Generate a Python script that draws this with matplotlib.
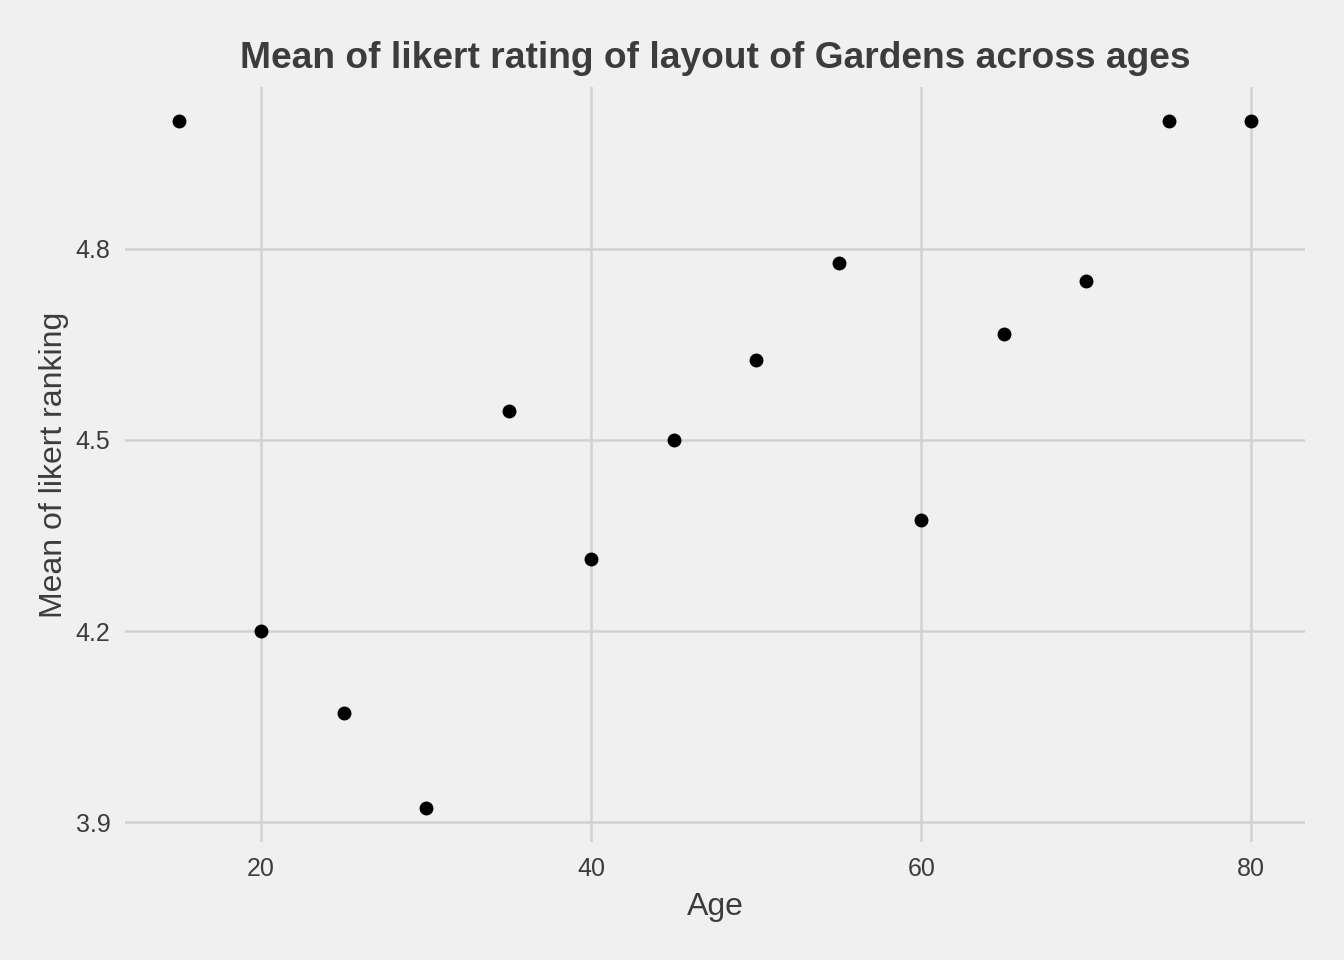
import matplotlib.pyplot as plt

plt.rcParams['font.family'] = ['Liberation Sans', 'DejaVu Sans']

# mean likert rating per age group
ages = [15, 20, 25, 30, 35, 40, 45, 50, 55, 60, 65, 70, 75, 80]
mean_rating = [5.0, 4.2, 4.0714, 3.9231, 4.5455, 4.3125, 4.5, 4.625,
               4.7778, 4.375, 4.6667, 4.75, 5.0, 5.0]
x_ticks = [20, 40, 60, 80]
y_ticks = [3.9, 4.2, 4.5, 4.8]

bg = '#F0F0F0'
grid_col = '#D2D2D2'
text_col = '#3C3C3C'

fig = plt.figure(figsize=(13.44, 9.6), dpi=100, facecolor=bg)
ax = fig.add_axes([125 / 1344, 118 / 960, 1180 / 1344, 755 / 960], facecolor=bg)

ax.plot(ages, mean_rating, 'o', color='black', markersize=9, zorder=3)

# ggplot style 5% expansion
xr = max(ages) - min(ages)
yr = max(mean_rating) - min(mean_rating)
ax.set_xlim(min(ages) - 0.05 * xr, max(ages) + 0.05 * xr)
ax.set_ylim(min(mean_rating) - 0.05 * yr, max(mean_rating) + 0.05 * yr)

ax.set_xticks(x_ticks)
ax.set_yticks(y_ticks)
ax.set_yticklabels([f'{v:.1f}' for v in y_ticks])
ax.grid(True, color=grid_col, linewidth=1.8, zorder=0)
ax.set_axisbelow(True)
for s in ax.spines.values():
    s.set_visible(False)
ax.tick_params(axis='x', length=0, pad=11, labelsize=18, labelcolor=text_col)
ax.tick_params(axis='y', length=0, pad=10.5, labelsize=18, labelcolor=text_col)

ax.set_title('Mean of likert rating of layout of Gardens across ages',
             fontsize=26.7, fontweight='bold', color=text_col, pad=13.5)
ax.set_xlabel('Age', fontsize=23, color=text_col, va='center')
ax.set_ylabel('Mean of likert ranking', fontsize=23, color=text_col, va='center')
ax.xaxis.set_label_coords(0.5, -0.086)
ax.yaxis.set_label_coords(-0.060, 0.5)

fig.savefig('out.png', dpi=100, facecolor=bg)
